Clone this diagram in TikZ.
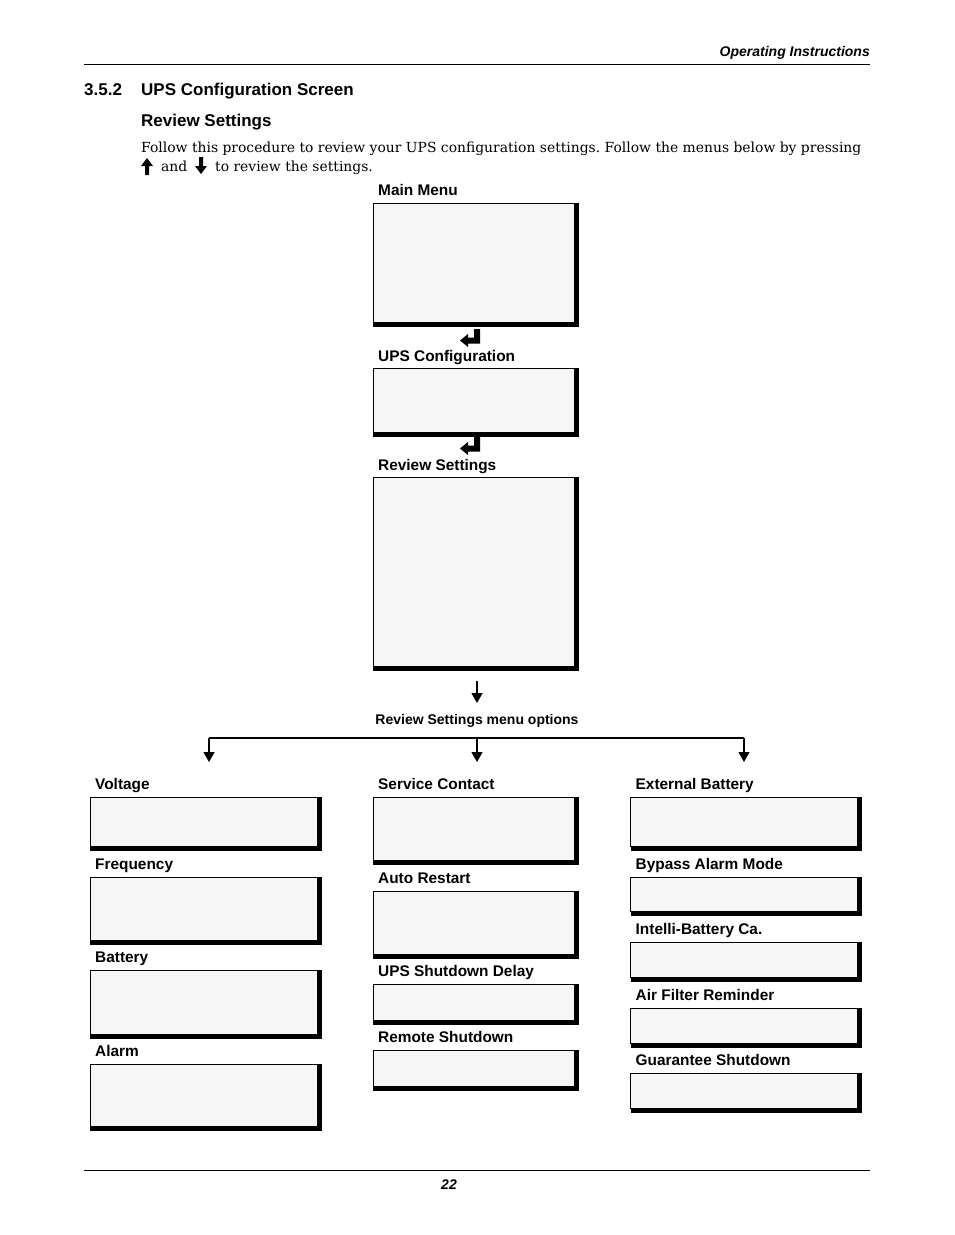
\documentclass[tikz,border=0pt]{standalone}
\usepackage{fontspec}
\newfontfamily\hv{Liberation Sans}
\newfontfamily\serifbody{DejaVu Serif}
\usetikzlibrary{arrows.meta}
\definecolor{boxfill}{RGB}{246,246,246}
\frenchspacing
\tikzset{
  scrn/.style={draw=black, line width=1pt, fill=boxfill, inner sep=0pt, outer sep=0pt},
  lbl/.style={font=\hv\bfseries\fontsize{15.4}{18}\selectfont, inner sep=0pt, anchor=base west},
  head/.style={font=\hv\bfseries\fontsize{17}{20}\selectfont, inner sep=0pt, anchor=base west},
  body/.style={font=\serifbody\fontsize{13.9}{19}\selectfont, inner sep=0pt, anchor=base west},
  arr/.style={line width=1.3pt, -{Triangle[width=11pt,length=10pt]}},
  conn/.style={line width=1.2pt},
}
\newcommand\scrbox[5]{%
  \node[scrn, anchor=north west, minimum width={(#4-#2)*1pt}, minimum height={(#5-#3)*1pt}] (#1) at (#2,#3) {};
  \fill (#1.north east) rectangle ([xshift=4.5pt,yshift=-4.5pt]#1.south east);
  \fill (#1.south west) rectangle ([xshift=4.5pt,yshift=-4.5pt]#1.south east);
}
\newcommand\scrlabel[4][8pt]{\node[lbl] (#2) at ([xshift=5pt,yshift=#1]#3.north west) {#4};}
\newcommand\enterkey[1]{%
  \fill[shift={(0,#1)}] (474,329) -- (480,329) -- (480,343.5) -- (468,343.5) -- (468,347) -- (460,340.5) -- (468,334) -- (468,337.5) -- (474,337.5) -- cycle;
}
\begin{document}
\begin{tikzpicture}[x=1pt,y=-1pt]
\useasboundingbox (0,0) rectangle (954,1235);
\fill[white] (0,0) rectangle (954,1235);

% header and footer
\node[font=\hv\bfseries\itshape\fontsize{14}{16}\selectfont, inner sep=0pt, anchor=base east] (hdr) at (870,56) {Operating Instructions};
\coordinate (hl1) at (84,64); \coordinate (hl2) at (870,64);
\draw[line width=1pt] (hl1) -- (hl2);
\coordinate (fl1) at (84,1170); \coordinate (fl2) at (870,1170);
\draw[line width=1pt] (fl1) -- (fl2);
\node[font=\hv\bfseries\itshape\fontsize{14}{16}\selectfont, inner sep=0pt, anchor=base] (pg) at (449,1189) {22};

% headings
\node[head] (secnum) at (84,95) {3.5.2};
\node[head] (sectitle) at (141,95) {UPS Configuration Screen};
\node[head] (subtitle) at (141,126) {Review Settings};

% body text
\node[body] (line1) at (141,152) {Follow this procedure to review your UPS configuration settings. Follow the menus below by pressing};
\fill (147,158) -- (153,166) -- (149,166) -- (149,175) -- (145,175) -- (145,166) -- (141,166) -- cycle;
\node[body] (and) at (161,171) {and};
\fill (201,174) -- (207,166) -- (203,166) -- (203,157) -- (199,157) -- (199,166) -- (195,166) -- cycle;
\node[body] (line2) at (215,171) {to review the settings.};

% top chain
\scrbox{mm}{373}{203}{574}{322}
\scrlabel{mmL}{mm}{Main Menu}
\enterkey{0}
\scrbox{uc}{373}{368}{574}{432}
\scrlabel[6.5pt]{ucL}{uc}{UPS Configuration}
\enterkey{108}
\scrbox{rs}{373}{477}{574}{666}
\scrlabel[6.5pt]{rsL}{rs}{Review Settings}

\coordinate (a0) at (477,681);
\node[font=\hv\bfseries\fontsize{14}{16}\selectfont, inner sep=0pt, anchor=base] (opts) at (477,724) {Review Settings menu options};
\coordinate (a1) at (477,703);
\draw[arr] (a0) -- (a1);

\coordinate (h1) at (209,738); \coordinate (h2) at (477,738); \coordinate (h3) at (744,738);
\coordinate (t1) at (209,762); \coordinate (t2) at (477,762); \coordinate (t3) at (744,762);
\draw[conn] (h1) -- (h3);
\draw[arr] (h1) -- (t1);
\draw[arr] (h2) -- (t2);
\draw[arr] (h3) -- (t3);

% left column
\scrbox{volt}{90}{797}{317.5}{846.5}
\scrlabel{voltL}{volt}{Voltage}
\scrbox{freq}{90}{877}{317.5}{940}
\scrlabel{freqL}{freq}{Frequency}
\scrbox{batt}{90}{970}{317.5}{1034}
\scrlabel{battL}{batt}{Battery}
\scrbox{alarm}{90}{1064}{317.5}{1126.5}
\scrlabel{alarmL}{alarm}{Alarm}

% middle column
\scrbox{svc}{373}{797}{574}{860}
\scrlabel{svcL}{svc}{Service Contact}
\scrbox{ar}{373}{891}{574}{954}
\scrlabel{arL}{ar}{Auto Restart}
\scrbox{usd}{373}{984}{574}{1020}
\scrlabel{usdL}{usd}{UPS Shutdown Delay}
\scrbox{rsd}{373}{1050}{574}{1086}
\scrlabel{rsdL}{rsd}{Remote Shutdown}

% right column
\scrbox{eb}{630.5}{797}{857.5}{846}
\scrlabel{ebL}{eb}{External Battery}
\scrbox{bam}{630.5}{877}{857.5}{911.5}
\scrlabel{bamL}{bam}{Bypass Alarm Mode}
\scrbox{ibc}{630.5}{942}{857.5}{977.5}
\scrlabel{ibcL}{ibc}{Intelli-Battery Ca.}
\scrbox{afr}{630.5}{1008}{857.5}{1043}
\scrlabel{afrL}{afr}{Air Filter Reminder}
\scrbox{gs}{630.5}{1073}{857.5}{1108}
\scrlabel{gsL}{gs}{Guarantee Shutdown}
\end{tikzpicture}
\end{document}
